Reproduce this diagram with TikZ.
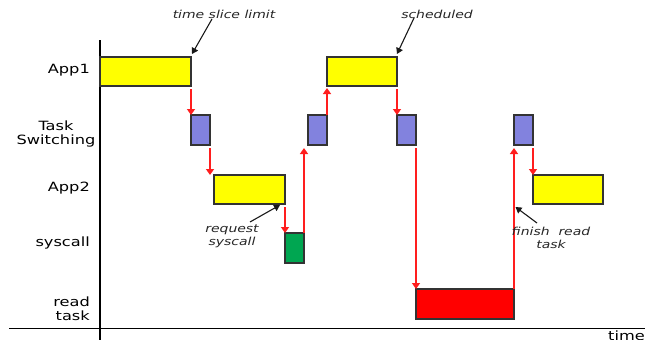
\documentclass[tikz,border=0pt]{standalone}
\usepackage{fontspec}
\newfontfamily\labfont[FakeStretch=1.27]{DejaVu Sans}
\usetikzlibrary{arrows.meta}
\definecolor{ybox}{RGB}{255,255,0}
\definecolor{tbox}{RGB}{130,130,222}
\definecolor{gbox}{RGB}{0,166,81}
\definecolor{rbox}{RGB}{255,0,0}
\definecolor{rline}{RGB}{255,30,30}
\begin{document}
\begin{tikzpicture}[x=1pt,y=-1pt,
  lab/.style={font=\labfont\fontsize{12.75}{14}\selectfont, inner sep=0pt, align=right},
  note/.style={font=\labfont\itshape\fontsize{11}{13}\selectfont, inner sep=0pt, align=center, text=black!85},
  bar/.style={draw=black!80, line width=1.1pt, anchor=north west, inner sep=0pt, outer sep=0pt},
  redarr/.style={draw=rline, line width=1.4pt, -{Triangle[width=8pt,length=6pt]}},
  blkarr/.style={draw=black!90, line width=1.1pt, -{Triangle[width=7pt,length=6pt]}},
  axis/.style={draw=black, line width=1.3pt}
]
\useasboundingbox (0,0) rectangle (659,340);
% axes
\coordinate (vtop) at (100,40);
\coordinate (vbot) at (100,342);
\coordinate (hl) at (9,328);
\coordinate (hr) at (645,328);
\draw[axis] (vtop) -- (vbot);
\draw[axis, line width=1pt] (hl) -- (hr);
\node[lab, anchor=base east] (time) at (645,340) {time};
% row labels
\node[lab, anchor=base east] (l1) at (90,73) {App1};
\node[lab, align=center] (l2) at (56,134) {Task\\Switching};
\node[lab, anchor=base east] (l3) at (90,191) {App2};
\node[lab, anchor=base east] (l4) at (90,246) {syscall};
\node[lab, anchor=east] (l5) at (90,309) {read\\task};
% bars
\node[bar, fill=ybox, minimum width=91pt, minimum height=29pt] (a1) at (100,57) {};
\node[bar, fill=ybox, minimum width=70pt, minimum height=29pt] (a2) at (327,57) {};
\node[bar, fill=tbox, minimum width=19pt, minimum height=30pt] (t1) at (191,115) {};
\node[bar, fill=tbox, minimum width=19pt, minimum height=30pt] (t2) at (308,115) {};
\node[bar, fill=tbox, minimum width=19pt, minimum height=30pt] (t3) at (397,115) {};
\node[bar, fill=tbox, minimum width=19pt, minimum height=30pt] (t4) at (514,115) {};
\node[bar, fill=ybox, minimum width=71pt, minimum height=29pt] (b1) at (214,175) {};
\node[bar, fill=ybox, minimum width=70pt, minimum height=29pt] (b2) at (533,175) {};
\node[bar, fill=gbox, minimum width=19pt, minimum height=30pt] (s1) at (285,233) {};
\node[bar, fill=rbox, minimum width=98pt, minimum height=30pt] (r1) at (416,289) {};
% red transitions
\draw[redarr, shorten <=3pt] (a1.south east) -- (t1.north west);
\draw[redarr, shorten <=3pt] (t1.south east) -- (t1.south east |- b1.north);
\draw[redarr, shorten <=3pt] (b1.south east) -- (s1.north west);
\draw[redarr, shorten >=3pt] (s1.north east) -- (s1.north east |- t2.south);
\draw[redarr, shorten >=2pt] (t2.north east) -- (a2.south west);
\draw[redarr, shorten <=3pt] (a2.south east) -- (t3.north west);
\draw[redarr, shorten <=3pt] (t3.south east) -- (r1.north west);
\draw[redarr, shorten >=3pt] (r1.north east) -- (t4.south west);
\draw[redarr, shorten <=3pt] (t4.south east) -- (b2.north west);
% annotations
\node[note] (n1) at (224,14) {time slice limit};
\node[note] (n2) at (437,14) {scheduled};
\node[note] (n3) at (232,236) {request\\syscall};
\node[note] (n4) at (551,238) {finish\ \ read\\task};
\coordinate (c1) at (212,19);
\coordinate (c2) at (414,18);
\coordinate (c3) at (250,222);
\coordinate (c4) at (537,223);
\draw[blkarr] (c1) -- ([shift={(1pt,3pt)}]a1.north east);
\draw[blkarr] (c2) -- ([shift={(0pt,3pt)}]a2.north east);
\draw[blkarr] (c3) -- ([shift={(-5pt,-1pt)}]b1.south east);
\draw[blkarr] (c4) -- ([shift={(1.5pt,82pt)}]r1.north east);
\end{tikzpicture}
\end{document}
